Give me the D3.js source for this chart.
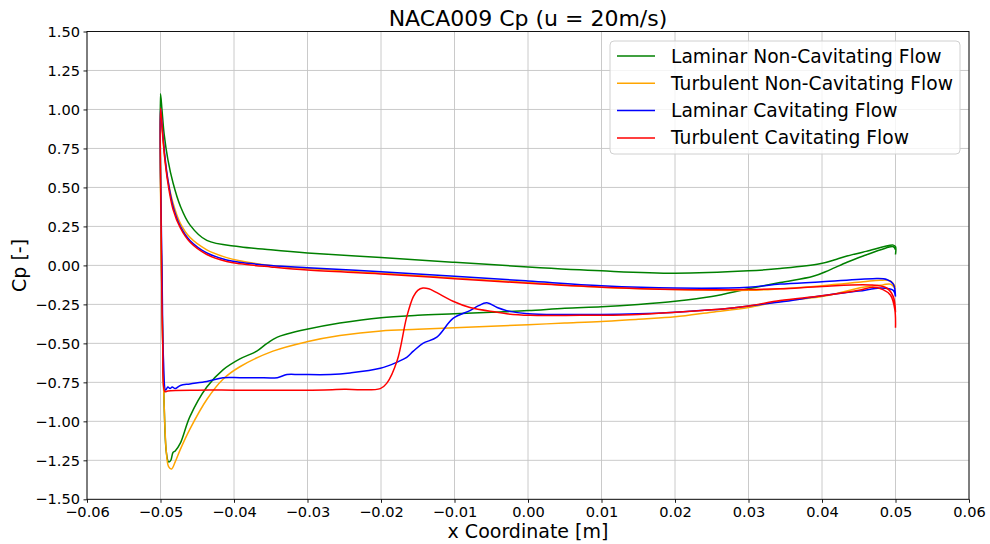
<!DOCTYPE html>
<html lang="en">
<head>
<meta charset="UTF-8">
<title>NACA009 Cp</title>
<script src="https://d3js.org/d3.v7.min.js"></script>
<style>
body { margin: 0; background: #fff; }
svg { font-family: "DejaVu Sans", sans-serif; }
.grid line { stroke: #c4c4c4; stroke-width: 0.9; }
.axis path, .axis line { stroke: #000; stroke-width: 0.9; }
.curve { fill: none; stroke-width: 1.5; stroke-linejoin: round; }
</style>
</head>
<body>
<svg width="990" height="544"></svg>
<script>

// series: each is a polyline going from trailing edge along the lower branch,
// up the leading edge, then along the upper branch back to the trailing edge
var seriesNames = ["Laminar Non-Cavitating Flow", "Turbulent Non-Cavitating Flow",
                   "Laminar Cavitating Flow", "Turbulent Cavitating Flow"];
var seriesColors = ["green", "orange", "blue", "red"];

var laminarNonCav = [
  [0.0500, 0.10], [0.0497, 0.12], [0.0480, 0.10], [0.0456, 0.06], [0.0434, 0.02], [0.0410, -0.03],
  [0.0388, -0.07], [0.0343, -0.11], [0.030, -0.15], [0.025, -0.20], [0.020, -0.23], [0.015, -0.25],
  [0.010, -0.265], [0.005, -0.275], [0.000, -0.29], [-0.005, -0.30], [-0.010, -0.31], [-0.015, -0.32],
  [-0.020, -0.335], [-0.0256, -0.37], [-0.0301, -0.41], [-0.0328, -0.44], [-0.0341, -0.46], [-0.0355, -0.50],
  [-0.0369, -0.55], [-0.0392, -0.60], [-0.0415, -0.67], [-0.0437, -0.78], [-0.0460, -0.97], [-0.0473, -1.14],
  [-0.0480, -1.19], [-0.0483, -1.20], [-0.0486, -1.25], [-0.0489, -1.26], [-0.0492, -1.20], [-0.0495, -0.90],
  [-0.0498, -0.20], [-0.0500, 0.60], [-0.0500, 1.10],
  [-0.0498, 1.00], [-0.0495, 0.84], [-0.0490, 0.68], [-0.0483, 0.53], [-0.0473, 0.38], [-0.0460, 0.26],
  [-0.0437, 0.16], [-0.0392, 0.12], [-0.0350, 0.10], [-0.030, 0.08], [-0.020, 0.05], [-0.010, 0.02],
  [0.000, -0.01], [0.010, -0.035], [0.020, -0.05], [0.030, -0.035], [0.0343, -0.02], [0.0397, 0.01],
  [0.0420, 0.04], [0.0434, 0.06], [0.0460, 0.09], [0.0497, 0.13], [0.0500, 0.12], [0.0500, 0.07]
];

var turbulentNonCav = [
  [0.0500, -0.15], [0.0493, -0.12], [0.0483, -0.125], [0.0456, -0.14], [0.040, -0.20], [0.0343, -0.23],
  [0.030, -0.27], [0.025, -0.30], [0.020, -0.33], [0.015, -0.345], [0.010, -0.36], [0.005, -0.37],
  [0.000, -0.38], [-0.005, -0.39], [-0.010, -0.40], [-0.015, -0.41], [-0.020, -0.42], [-0.0256, -0.45],
  [-0.0301, -0.49], [-0.0347, -0.55], [-0.0392, -0.65], [-0.0415, -0.73], [-0.0437, -0.86], [-0.0460, -1.05],
  [-0.0473, -1.18], [-0.0480, -1.26], [-0.0485, -1.305], [-0.0489, -1.29], [-0.0492, -1.20], [-0.0495, -0.90],
  [-0.0498, -0.20], [-0.0500, 0.50], [-0.0500, 1.00],
  [-0.0497, 0.82], [-0.0494, 0.68], [-0.0490, 0.55], [-0.0483, 0.40], [-0.0473, 0.27], [-0.0460, 0.18],
  [-0.0437, 0.10], [-0.0410, 0.05], [-0.0392, 0.03], [-0.035, 0.00], [-0.030, -0.02], [-0.020, -0.05],
  [-0.010, -0.08], [0.000, -0.11], [0.010, -0.14], [0.020, -0.155], [0.030, -0.16], [0.0343, -0.15],
  [0.040, -0.13], [0.0456, -0.105], [0.0479, -0.095], [0.0493, -0.10], [0.0500, -0.14]
];

var laminarCav = [
  [0.0500, -0.20], [0.0497, -0.16], [0.0480, -0.145], [0.045, -0.165], [0.040, -0.195], [0.0343, -0.235],
  [0.030, -0.26], [0.025, -0.285], [0.020, -0.30], [0.015, -0.31], [0.010, -0.315], [0.005, -0.315],
  [0.000, -0.31], [-0.0029, -0.29], [-0.0042, -0.27], [-0.0056, -0.24], [-0.0068, -0.26], [-0.0079, -0.29],
  [-0.0102, -0.34], [-0.0124, -0.46], [-0.0143, -0.50], [-0.0156, -0.55], [-0.0165, -0.59], [-0.0178, -0.62],
  [-0.0201, -0.66], [-0.0242, -0.69], [-0.0269, -0.70], [-0.0310, -0.70], [-0.0328, -0.70], [-0.0341, -0.72],
  [-0.0369, -0.72], [-0.0392, -0.72], [-0.0415, -0.72], [-0.0437, -0.745], [-0.0460, -0.76], [-0.0473, -0.77],
  [-0.0480, -0.79], [-0.0484, -0.78], [-0.0487, -0.79], [-0.0490, -0.78], [-0.0493, -0.80], [-0.0496, -0.60],
  [-0.0498, 0.00], [-0.0500, 0.60], [-0.0500, 1.01],
  [-0.0497, 0.85], [-0.0494, 0.70], [-0.0490, 0.55], [-0.0483, 0.38], [-0.0473, 0.25], [-0.0460, 0.16],
  [-0.0437, 0.08], [-0.0410, 0.035], [-0.0392, 0.02], [-0.035, 0.00], [-0.030, -0.015], [-0.020, -0.04],
  [-0.010, -0.07], [0.000, -0.10], [0.010, -0.13], [0.020, -0.145], [0.030, -0.14], [0.0343, -0.12],
  [0.040, -0.105], [0.0469, -0.085], [0.0488, -0.09], [0.0497, -0.12], [0.0500, -0.20]
];

var turbulentCav = [
  [0.0500, -0.40], [0.0499, -0.28], [0.0493, -0.19], [0.0483, -0.155], [0.0469, -0.14], [0.045, -0.16],
  [0.040, -0.195], [0.0343, -0.225], [0.030, -0.26], [0.025, -0.285], [0.020, -0.30], [0.015, -0.315],
  [0.010, -0.32], [0.0071, -0.32], [0.0003, -0.32], [-0.0029, -0.31], [-0.0042, -0.30], [-0.0079, -0.27],
  [-0.0102, -0.23], [-0.0124, -0.175], [-0.0135, -0.15], [-0.0143, -0.145], [-0.0150, -0.16], [-0.0156, -0.20],
  [-0.0165, -0.33], [-0.0178, -0.61], [-0.0192, -0.755], [-0.0201, -0.79], [-0.025, -0.795], [-0.030, -0.80],
  [-0.035, -0.80], [-0.040, -0.80], [-0.045, -0.80], [-0.0490, -0.805], [-0.0494, -0.81], [-0.0497, -0.50],
  [-0.0499, 0.20], [-0.0500, 1.01],
  [-0.0497, 0.84], [-0.0494, 0.68], [-0.0490, 0.53], [-0.0483, 0.36], [-0.0473, 0.24], [-0.0460, 0.15],
  [-0.0437, 0.07], [-0.0410, 0.025], [-0.0392, 0.01], [-0.035, -0.01], [-0.030, -0.03], [-0.020, -0.055],
  [-0.010, -0.085], [0.000, -0.115], [0.010, -0.14], [0.020, -0.155], [0.030, -0.155], [0.0343, -0.15],
  [0.040, -0.135], [0.0465, -0.125], [0.0488, -0.145], [0.0497, -0.20], [0.0500, -0.30]
];

var xTicks = [-0.06, -0.05, -0.04, -0.03, -0.02, -0.01, 0, 0.01, 0.02, 0.03, 0.04, 0.05, 0.06];
var yTicks = [-1.5, -1.25, -1, -0.75, -0.5, -0.25, 0, 0.25, 0.5, 0.75, 1, 1.25, 1.5];

var allSeries = [laminarNonCav, turbulentNonCav, laminarCav, turbulentCav];

var svg = d3.select("svg");
var margin = {left: 87, top: 31.5, right: 969, bottom: 499.3};

var x = d3.scaleLinear().domain([-0.06, 0.06]).range([margin.left, margin.right]);
var y = d3.scaleLinear().domain([-1.5, 1.5]).range([margin.bottom, margin.top]);

// grid
var grid = svg.append("g").attr("class", "grid");
grid.selectAll(".vx").data(xTicks).enter().append("line")
    .attr("x1", d => x(d)).attr("x2", d => x(d))
    .attr("y1", margin.top).attr("y2", margin.bottom);
grid.selectAll(".hy").data(yTicks).enter().append("line")
    .attr("y1", d => y(d)).attr("y2", d => y(d))
    .attr("x1", margin.left).attr("x2", margin.right);

// curves
var line = d3.line()
    .x(d => x(d[0]))
    .y(d => y(d[1]))
    .curve(d3.curveCatmullRom.alpha(0.5));

svg.append("g").selectAll("path").data(allSeries).enter().append("path")
    .attr("class", "curve")
    .attr("stroke", (d, i) => seriesColors[i])
    .attr("d", line);

// axes
var fmt = d3.format(".2f");
function styleTicks(g) {
    g.select(".domain").remove();
    g.attr("font-family", "DejaVu Sans").attr("font-size", 14.6);
    g.selectAll("text").attr("fill", "#000");
}
svg.append("g").attr("class", "axis")
    .attr("transform", "translate(0," + margin.bottom + ")")
    .call(d3.axisBottom(x).tickValues(xTicks).tickFormat(fmt).tickSize(3.5).tickPadding(3.5))
    .call(styleTicks);
svg.append("g").attr("class", "axis")
    .attr("transform", "translate(" + margin.left + ",0)")
    .call(d3.axisLeft(y).tickValues(yTicks).tickFormat(fmt).tickSize(3.5).tickPadding(3.5))
    .call(styleTicks);

// frame
svg.append("rect")
    .attr("x", margin.left).attr("y", margin.top)
    .attr("width", margin.right - margin.left).attr("height", margin.bottom - margin.top)
    .attr("fill", "none").attr("stroke", "#000").attr("stroke-width", 0.9);

// title + labels
svg.append("text").attr("x", (margin.left + margin.right) / 2).attr("y", 26)
    .attr("text-anchor", "middle").attr("font-size", 22).text("NACA009 Cp (u = 20m/s)");
svg.append("text").attr("x", (margin.left + margin.right) / 2).attr("y", 538)
    .attr("text-anchor", "middle").attr("font-size", 19).text("x Coordinate [m]");
svg.append("text")
    .attr("transform", "translate(26," + (margin.top + margin.bottom) / 2 + ") rotate(-90)")
    .attr("text-anchor", "middle").attr("font-size", 19).text("Cp [-]");

// legend
var legend = svg.append("g").attr("transform", "translate(610,41)");
legend.append("rect")
    .attr("width", 350).attr("height", 113).attr("rx", 4)
    .attr("fill", "#fff").attr("fill-opacity", 0.8)
    .attr("stroke", "#d0d0d0");
var items = legend.selectAll(".item").data(seriesNames).enter().append("g")
    .attr("transform", (d, i) => "translate(0," + (15 + i * 27.3) + ")");
items.append("line")
    .attr("x1", 7).attr("x2", 45)
    .attr("stroke", (d, i) => seriesColors[i]).attr("stroke-width", 1.5);
items.append("text")
    .attr("x", 61).attr("dy", "0.35em").attr("font-size", 18.7)
    .text(d => d);

</script>
</body>
</html>
